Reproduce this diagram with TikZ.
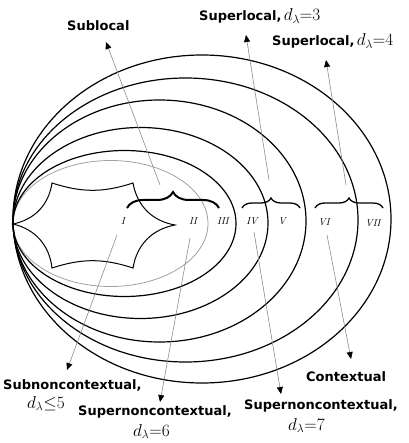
\documentclass[tikz,border=0pt]{standalone}
\usepackage{amsmath,amssymb}
\usepackage{fontspec}
\setsansfont{DejaVu Sans}
\usepackage{tikz}
\usetikzlibrary{arrows.meta,decorations.pathreplacing}
\definecolor{pointergray}{HTML}{8C8C8C}
\definecolor{ringgray}{HTML}{A0A0A0}

\begin{document}
\begin{tikzpicture}[x=1pt,y=-1pt,
    ring/.style={line width=1.2pt},
    pointer/.style={pointergray,line width=0.6pt,-{Triangle[black,length=7pt,width=6pt]}},
    lbl/.style={font=\fontsize{13}{15}\selectfont\sffamily\bfseries,inner sep=0pt},
    mlbl/.style={font=\fontsize{18}{21}\selectfont,inner sep=0pt},
    numeral/.style={font=\fontsize{10}{12}\selectfont\itshape,inner sep=0pt},
    bracebig/.style={decorate,decoration={brace,amplitude=16pt},line width=2pt},
    bracesmall/.style={decorate,decoration={brace,amplitude=10pt},line width=1.3pt}]
    \useasboundingbox (0,0) rectangle (408,443);
    % nested regions
    \draw[ringgray,line width=0.8pt] (110.5,223.5) ellipse [x radius=97.5pt,y radius=63pt];
    \draw[ring] (124.5,223.5) ellipse [x radius=111.5pt,y radius=73pt];
    \draw[ring] (140.5,223) ellipse [x radius=127.5pt,y radius=95.5pt];
    \draw[ring] (159.5,221) ellipse [x radius=146.5pt,y radius=121pt];
    \draw[ring] (185.5,220) ellipse [x radius=172.5pt,y radius=142pt];
    \draw[ring] (202,219) ellipse [x radius=189pt,y radius=164pt];
    % star
    \draw[line width=1pt] (13,224) to[bend right=35] (52,183) to[bend right=18] (133,183)
      to[bend right=35] (175,225) to[bend right=35] (133,268) to[bend right=18] (52,268)
      to[bend right=35] cycle;
    % braces
    \draw[bracebig] (127,208) -- (219,208);
    \draw[bracesmall] (242,208) -- (300,208);
    \draw[bracesmall] (315,208) -- (383,208);
    \node[numeral] (n1) at (123,221) {I};
    \node[numeral] (n2) at (193,221) {II};
    \node[numeral] (n3) at (223,221) {III};
    \node[numeral] (n4) at (252,221) {IV};
    \node[numeral] (n5) at (282,221) {V};
    \node[numeral] (n6) at (324,222) {VI};
    \node[numeral] (n7) at (373,223) {VII};
    % labels
    \node[lbl,anchor=base west] (sublocal) at (67,31) {Sublocal};
    \node[lbl,anchor=base west] (superlocal3) at (199,21) {Superlocal,\,{\fontsize{18}{21}\selectfont$d_{\lambda}{=}3$}};
    \node[lbl,anchor=base west] (superlocal4) at (272,46) {Superlocal,\,{\fontsize{18}{21}\selectfont$d_{\lambda}{=}4$}};
    \node[lbl,anchor=base west] (subnon) at (3,389) {Subnoncontextual,};
    \node[mlbl,anchor=base west] (subnon d) at (27,408) {$d_{\lambda}{\le}5$};
    \node[lbl,anchor=base west] (supernon6) at (78,415) {Supernoncontextual,};
    \node[mlbl,anchor=base west] (supernon6 d) at (133,436) {$d_{\lambda}{=}6$};
    \node[lbl,anchor=base west] (supernon7) at (244,409) {Supernoncontextual,};
    \node[mlbl,anchor=base west] (supernon7 d) at (288,430) {$d_{\lambda}{=}7$};
    \node[lbl,anchor=base west] (contextual) at (306,381) {Contextual};
    % pointers
    \coordinate (sublocal from) at (160,185);
    \coordinate (sublocal to) at (106,42);
    \coordinate (superlocal3 from) at (269,180);
    \coordinate (superlocal3 to) at (246,35);
    \coordinate (superlocal4 from) at (346,185);
    \coordinate (superlocal4 to) at (326,60);
    \coordinate (subnon from) at (117,235);
    \coordinate (subnon to) at (67,370);
    \coordinate (supernon6 from) at (190,238);
    \coordinate (supernon6 to) at (160,402);
    \coordinate (supernon7 from) at (254,232);
    \coordinate (supernon7 to) at (281,394);
    \coordinate (contextual from) at (327,235);
    \coordinate (contextual to) at (351,359);
    \foreach \p in {sublocal,superlocal3,superlocal4,subnon,supernon6,supernon7,contextual}
      \draw[pointer] (\p\space from) -- (\p\space to);
  \end{tikzpicture}
\end{document}
